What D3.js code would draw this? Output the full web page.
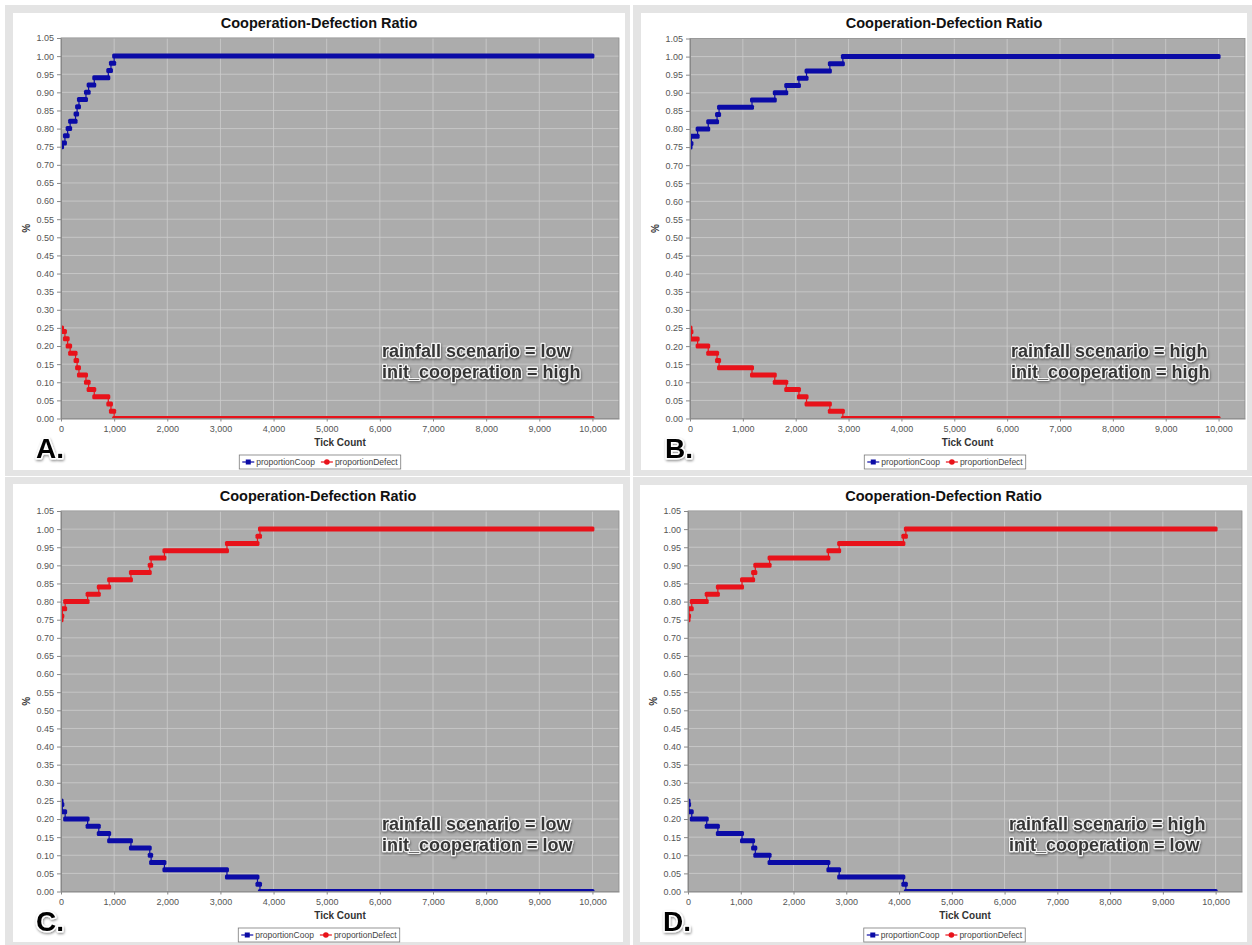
<!DOCTYPE html>
<html>
<head>
<meta charset="utf-8">
<title>Cooperation-Defection Ratio</title>
<script src="https://cdn.jsdelivr.net/npm/d3@7"></script>
<style>
  body { margin: 0; background: #fff; }
  svg { display: block; font-family: "Liberation Sans", Arial, sans-serif; }
</style>
</head>
<body>
<svg id="chart" width="1252" height="945"></svg>
<script>
// axis ticks
const xTickValues = [0, 1000, 2000, 3000, 4000, 5000, 6000, 7000, 8000, 9000, 10000];
const yTickValues = [0, 0.05, 0.10, 0.15, 0.20, 0.25, 0.30, 0.35, 0.40, 0.45, 0.50,
  0.55, 0.60, 0.65, 0.70, 0.75, 0.80, 0.85, 0.90, 0.95, 1.00, 1.05];

const seriesNames = ['proportionCoop', 'proportionDefect'];
const seriesColors = ['#0b0ba6', '#e8121a'];

// A. rainfall low, init_cooperation high  (tick where each level starts)
const ticksA = [0, 20, 74, 125, 172, 274, 303, 338, 470, 520, 626, 890, 940, 1000, 10000];
const coopA = [0.75, 0.76, 0.78, 0.80, 0.82, 0.84, 0.86, 0.88, 0.90, 0.92, 0.94, 0.96, 0.98, 1.00, 1.00];
const defectA = [0.25, 0.24, 0.22, 0.20, 0.18, 0.16, 0.14, 0.12, 0.10, 0.08, 0.06, 0.04, 0.02, 0.00, 0.00];

// B. rainfall high, init_cooperation high
const ticksB = [0, 10, 27, 144, 345, 512, 550, 1173, 1604, 1821, 2061, 2205, 2646, 2892, 10000];
const coopB = [0.75, 0.76, 0.78, 0.80, 0.82, 0.84, 0.86, 0.88, 0.90, 0.92, 0.94, 0.96, 0.98, 1.00, 1.00];
const defectB = [0.25, 0.24, 0.22, 0.20, 0.18, 0.16, 0.14, 0.12, 0.10, 0.08, 0.06, 0.04, 0.02, 0.00, 0.00];

// C. rainfall low, init_cooperation low
const ticksC = [0, 10, 25, 78, 501, 711, 906, 1316, 1670, 1696, 1946, 3123, 3697, 3744, 10000];
const coopC = [0.25, 0.24, 0.22, 0.20, 0.18, 0.16, 0.14, 0.12, 0.10, 0.08, 0.06, 0.04, 0.02, 0.00, 0.00];
const defectC = [0.75, 0.76, 0.78, 0.80, 0.82, 0.84, 0.86, 0.88, 0.90, 0.92, 0.94, 0.96, 0.98, 1.00, 1.00];

// D. rainfall high, init_cooperation low
const ticksD = [0, 10, 20, 71, 355, 566, 1024, 1234, 1276, 1546, 2661, 2865, 4082, 4129, 10000];
const coopD = [0.25, 0.24, 0.22, 0.20, 0.18, 0.16, 0.14, 0.12, 0.10, 0.08, 0.06, 0.04, 0.02, 0.00, 0.00];
const defectD = [0.75, 0.76, 0.78, 0.80, 0.82, 0.84, 0.86, 0.88, 0.90, 0.92, 0.94, 0.96, 0.98, 1.00, 1.00];

const notesA = ['rainfall scenario = low', 'init_cooperation = high'];
const notesB = ['rainfall scenario = high', 'init_cooperation = high'];
const notesC = ['rainfall scenario = low', 'init_cooperation = low'];
const notesD = ['rainfall scenario = high', 'init_cooperation = low'];

const panels = [
  { id: 'A', ticks: ticksA, coop: coopA, defect: defectA, notes: notesA,
    outer: [5, 5, 625, 471], inner: [13, 13, 612, 457], plot: { left: 61, right: 619, top: 38, bottom: 418.5 } },
  { id: 'B', ticks: ticksB, coop: coopB, defect: defectB, notes: notesB,
    outer: [633, 5, 619, 471], inner: [641, 13, 606, 457], plot: { left: 690, right: 1245, top: 38.5, bottom: 418.5 } },
  { id: 'C', ticks: ticksC, coop: coopC, defect: defectC, notes: notesC,
    outer: [5, 477, 625, 468], inner: [13, 484, 610, 458], plot: { left: 61, right: 619, top: 511, bottom: 891.5 } },
  { id: 'D', ticks: ticksD, coop: coopD, defect: defectD, notes: notesD,
    outer: [633, 477, 619, 468], inner: [640, 485, 607, 457], plot: { left: 688, right: 1242, top: 511, bottom: 891.5 } }
];

const svg = d3.select('#chart');
const defs = svg.append('defs');

const shadow = defs.append('filter').attr('id', 'txtShadow')
  .attr('x', '-10%').attr('y', '-30%').attr('width', '120%').attr('height', '170%');
shadow.append('feDropShadow')
  .attr('dx', 0.6).attr('dy', 1.4).attr('stdDeviation', 1)
  .attr('flood-color', '#000').attr('flood-opacity', 0.45);

function drawSeries(g, x, y, ticks, values, color) {
  const pts = ticks.map((t, i) => [t, values[i]]);
  g.append('path')
    .datum(pts)
    .attr('fill', 'none')
    .attr('stroke', color)
    .attr('stroke-width', 1.2)
    .attr('d', d3.line().x(d => x(d[0])).y(d => y(d[1])).curve(d3.curveStepAfter));

  // the shape markers pile up into thick bars on each level
  const levels = pts.slice(0, -1).map((d, i) => ({ t0: d[0], t1: pts[i + 1][0], v: d[1] }));
  g.append('g').selectAll('rect')
    .data(levels)
    .join('rect')
    .attr('x', d => x(d.t0) - 2)
    .attr('width', d => x(d.t1) - x(d.t0) + 4)
    .attr('y', d => y(d.v) - 2.5)
    .attr('height', 5)
    .attr('rx', 1.5)
    .attr('fill', color);
}

panels.forEach(p => {
  const g = svg.append('g');
  const [ox, oy, ow, oh] = p.outer;
  const [ix, iy, iw, ih] = p.inner;
  const pl = p.plot;

  g.append('rect').attr('x', ox).attr('y', oy).attr('width', ow).attr('height', oh).attr('fill', '#e4e4e4');
  g.append('rect').attr('x', ix).attr('y', iy).attr('width', iw).attr('height', ih).attr('fill', '#fff');

  const x = d3.scaleLinear().domain([0, 10500]).range([pl.left, pl.right]);
  const y = d3.scaleLinear().domain([0, 1.05]).range([pl.bottom, pl.top]);

  // plot area
  g.append('rect')
    .attr('x', pl.left).attr('y', pl.top)
    .attr('width', pl.right - pl.left).attr('height', pl.bottom - pl.top)
    .attr('fill', '#acacac');

  const grid = g.append('g').attr('stroke', '#cdcdcd').attr('stroke-width', 0.8);
  grid.selectAll('.vx').data(xTickValues).join('line')
    .attr('x1', d => x(d)).attr('x2', d => x(d))
    .attr('y1', pl.top).attr('y2', pl.bottom);
  grid.selectAll('.hy').data(yTickValues).join('line')
    .attr('x1', pl.left).attr('x2', pl.right)
    .attr('y1', d => y(d)).attr('y2', d => y(d));

  defs.append('clipPath').attr('id', 'clip' + p.id)
    .append('rect')
    .attr('x', pl.left).attr('y', pl.top)
    .attr('width', pl.right - pl.left).attr('height', pl.bottom - pl.top);

  const data = g.append('g').attr('clip-path', `url(#clip${p.id})`);
  drawSeries(data, x, y, p.ticks, p.coop, seriesColors[0]);
  drawSeries(data, x, y, p.ticks, p.defect, seriesColors[1]);

  g.append('rect')
    .attr('x', pl.left).attr('y', pl.top)
    .attr('width', pl.right - pl.left).attr('height', pl.bottom - pl.top)
    .attr('fill', 'none').attr('stroke', '#8c8c8c').attr('stroke-width', 0.8);

  // axes
  const yAxis = g.append('g')
    .attr('transform', `translate(${pl.left},0)`)
    .call(d3.axisLeft(y).tickValues(yTickValues).tickFormat(d3.format('.2f')).tickSize(4).tickSizeOuter(0).tickPadding(3));
  const xAxis = g.append('g')
    .attr('transform', `translate(0,${pl.bottom})`)
    .call(d3.axisBottom(x).tickValues(xTickValues).tickFormat(d3.format(',')).tickSize(3).tickSizeOuter(0).tickPadding(4));
  [yAxis, xAxis].forEach(a => {
    a.select('.domain').attr('stroke', '#888');
    a.selectAll('.tick line').attr('stroke', '#888');
    a.selectAll('text').attr('fill', '#555').attr('font-size', 9).attr('font-family', '"Liberation Sans", Arial, sans-serif');
  });

  // titles
  const cx = ix + iw / 2;
  g.append('text')
    .attr('x', cx).attr('y', pl.top - 10.5)
    .attr('text-anchor', 'middle')
    .attr('font-size', 14.5).attr('font-weight', 'bold').attr('fill', '#111')
    .text('Cooperation-Defection Ratio');
  g.append('text')
    .attr('x', (pl.left + pl.right) / 2).attr('y', pl.bottom + 27)
    .attr('text-anchor', 'middle')
    .attr('font-size', 10).attr('font-weight', 'bold').attr('fill', '#333')
    .text('Tick Count');
  g.append('text')
    .attr('transform', `translate(${pl.left - 31},${(pl.top + pl.bottom) / 2}) rotate(-90)`)
    .attr('text-anchor', 'middle')
    .attr('font-size', 10).attr('font-weight', 'bold').attr('fill', '#333')
    .text('%');

  // legend
  const lg = g.append('g');
  const box = lg.append('rect')
    .attr('y', pl.bottom + 36.5).attr('height', 14)
    .attr('fill', '#fff').attr('stroke', '#7a7a7a').attr('stroke-width', 0.8);
  let cursor = 0;
  const items = lg.append('g');
  seriesNames.forEach((name, i) => {
    const it = items.append('g').attr('transform', `translate(${cursor},0)`);
    const my = pl.bottom + 43.5;
    it.append('line').attr('x1', 0).attr('x2', 12).attr('y1', my).attr('y2', my)
      .attr('stroke', seriesColors[i]).attr('stroke-width', 1.2);
    if (i === 0) {
      it.append('rect').attr('x', 3.5).attr('y', my - 2.5).attr('width', 5).attr('height', 5).attr('fill', seriesColors[i]);
    } else {
      it.append('circle').attr('cx', 6).attr('cy', my).attr('r', 2.8).attr('fill', seriesColors[i]);
    }
    const t = it.append('text').attr('x', 14).attr('y', my + 3)
      .attr('font-size', 8.5).attr('fill', '#444').text(name);
    cursor += 14 + t.node().getComputedTextLength() + 6;
  });
  const lw = cursor - 6 + 6;
  const lx = cx + 1 - lw / 2;
  items.attr('transform', `translate(${lx + 3},0)`);
  box.attr('x', lx).attr('width', lw);

  // scenario note
  g.append('g').selectAll('text')
    .data(p.notes)
    .join('text')
    .attr('x', pl.left + 321)
    .attr('y', (d, i) => pl.bottom - 62 + i * 21)
    .attr('font-size', 18).attr('font-weight', 'bold')
    .attr('fill', '#343434').attr('stroke', '#f2f2f2').attr('stroke-width', 2.5)
    .attr('stroke-linejoin', 'round').attr('paint-order', 'stroke')
    .attr('filter', 'url(#txtShadow)')
    .text(d => d);

  // panel letter
  g.append('text')
    .attr('x', pl.left - 25).attr('y', pl.bottom + 39)
    .attr('font-size', 28).attr('font-weight', 'bold')
    .attr('fill', '#000').attr('stroke', '#fff').attr('stroke-width', 3)
    .attr('stroke-linejoin', 'round').attr('paint-order', 'stroke')
    .attr('filter', 'url(#txtShadow)')
    .text(p.id + '.');
});
</script>
</body>
</html>
